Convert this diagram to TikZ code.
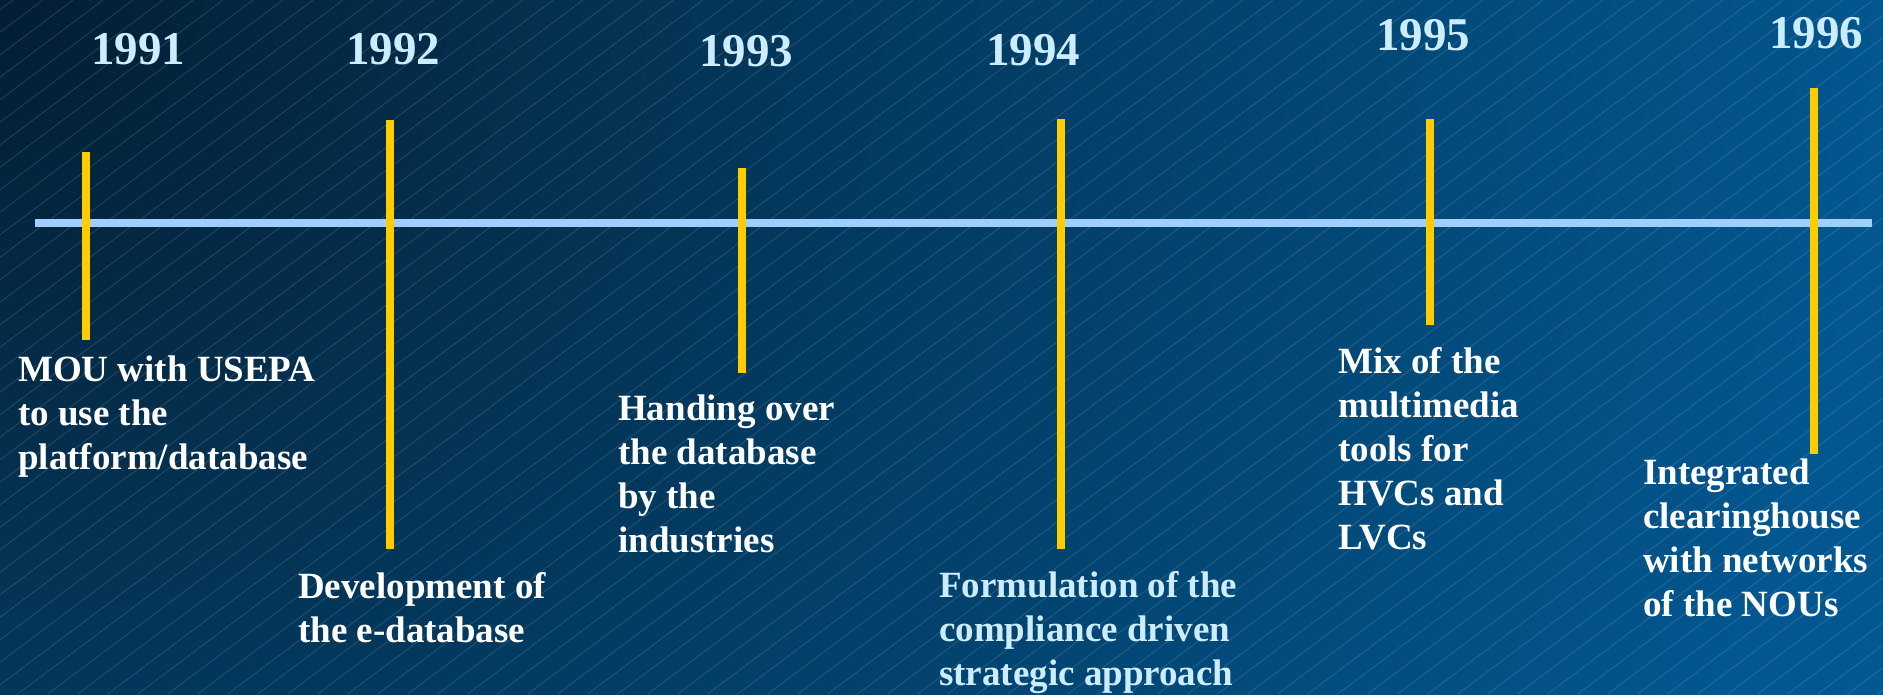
\documentclass[tikz,border=0pt]{standalone}
\usepackage{fontspec}
\setmainfont{Liberation Serif}
\definecolor{bgA}{RGB}{3,30,52}
\definecolor{bgB}{RGB}{4,46,76}
\definecolor{bgC}{RGB}{2,74,122}
\definecolor{bgD}{RGB}{3,86,143}
\definecolor{bgE}{RGB}{2,97,160}
\definecolor{bgF}{RGB}{2,103,168}
\definecolor{bgG}{RGB}{1,106,174}
\definecolor{axisblue}{RGB}{160,207,255}
\definecolor{baryellow}{RGB}{255,204,0}
\definecolor{paleblue}{RGB}{204,236,255}
\pgfdeclareradialshading{bgrad}{\pgfpointorigin}{color(0bp)=(bgA); color(5.5bp)=(bgB); color(16bp)=(bgC); color(21bp)=(bgD); color(30bp)=(bgE); color(40bp)=(bgF); color(50bp)=(bgG)}
\tikzset{
  hatch/.style={white, opacity=0.15, line width=0.7pt},
  axisline/.style={axisblue, line width=8pt},
  bar/.style={baryellow, line width=8pt},
  year/.style={anchor=base, inner sep=0pt, text=paleblue, font=\fontsize{47}{50}\selectfont\bfseries},
  event/.style={anchor=north west, inner sep=0pt, align=left, text=white, font=\fontsize{37}{44}\selectfont\bfseries},
}
\begin{document}
\begin{tikzpicture}[x=1pt,y=-1pt]
\useasboundingbox (0,0) rectangle (1883,694);
\begin{scope}
  \clip (0,0) rectangle (1883,694);
  \shade[shading=bgrad] (-2250,-2000) rectangle (2250,2000);
  \foreach \k in {0,...,94} {
    \draw[hatch] ({13+30*\k},0) -- ({13+30*\k-925.3},694);
  }
\end{scope}

% timeline axis
\coordinate (tlL) at (35,222.5);
\coordinate (tlR) at (1872,222.5);
\draw[axisline] (tlL) -- (tlR);

% yellow bars
\coordinate (b1t) at (86,152);   \coordinate (b1b) at (86,340);
\coordinate (b2t) at (390,120);  \coordinate (b2b) at (390,549);
\coordinate (b3t) at (742,168);  \coordinate (b3b) at (742,373);
\coordinate (b4t) at (1061,119); \coordinate (b4b) at (1061,549);
\coordinate (b5t) at (1430,119); \coordinate (b5b) at (1430,325);
\coordinate (b6t) at (1814,88);  \coordinate (b6b) at (1814,454);
\draw[bar] (b1t) -- (b1b);
\draw[bar] (b2t) -- (b2b);
\draw[bar] (b3t) -- (b3b);
\draw[bar] (b4t) -- (b4b);
\draw[bar] (b5t) -- (b5b);
\draw[bar] (b6t) -- (b6b);

% years
\node[year] (y1991) at (138,64) {1991};
\node[year] (y1992) at (393,64) {1992};
\node[year] (y1993) at (746,66) {1993};
\node[year] (y1994) at (1033,65) {1994};
\node[year] (y1995) at (1423,50) {1995};
\node[year] (y1996) at (1816,48) {1996};

% events
\node[event] (e1991) at (18,356) {MOU with USEPA\\to use the\\platform/database};
\node[event] (e1992) at (298,572) {Development of\\the e-database};
\node[event] (e1993) at (618,395) {Handing over\\the database\\by the\\industries};
\node[event, text=paleblue] (e1994) at (939,571) {Formulation of the\\compliance driven\\strategic approach};
\node[event] (e1995) at (1338,347) {Mix of the\\multimedia\\tools for\\HVCs and\\LVCs};
\node[event] (e1996) at (1643,459) {Integrated\\clearinghouse\\with networks\\of the NOUs};
\end{tikzpicture}
\end{document}
